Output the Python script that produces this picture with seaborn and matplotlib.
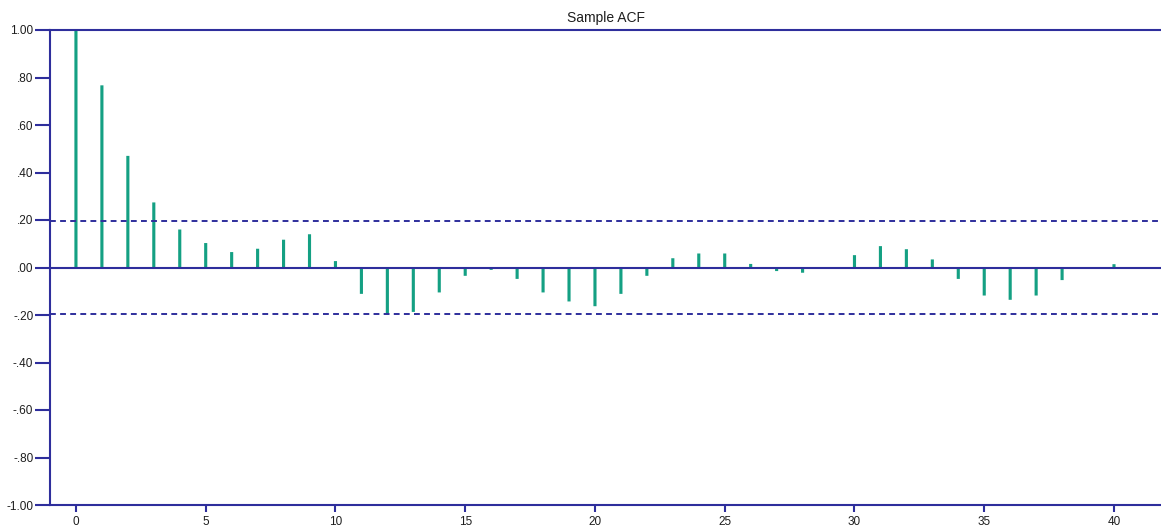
import matplotlib
matplotlib.use("Agg")
import matplotlib.pyplot as plt
import seaborn as sns
import numpy as np
import pandas as pd
from matplotlib.ticker import FuncFormatter, FixedLocator

# Sample autocorrelation by lag
lags = list(range(0, 41))
acf_values = [
    1.000, 0.767, 0.470, 0.274, 0.160, 0.103, 0.065, 0.079, 0.117, 0.140,
    0.027, -0.111, -0.197, -0.187, -0.105, -0.035, -0.010, -0.048, -0.105, -0.143,
    -0.163, -0.111, -0.035, 0.039, 0.059, 0.059, 0.015, -0.015, -0.022, 0.000,
    0.052, 0.090, 0.077, 0.034, -0.048, -0.118, -0.136, -0.118, -0.053, 0.000,
    0.014,
]
conf_bound = 0.196
x_ticks = [0, 5, 10, 15, 20, 25, 30, 35, 40]
y_ticks = [1.0, 0.8, 0.6, 0.4, 0.2, 0.0, -0.2, -0.4, -0.6, -0.8, -1.0]

navy = "#2e2e9c"
teal = "#14a083"

sns.set_theme(style="white")
plt.rcParams["font.family"] = ["Liberation Sans", "DejaVu Sans"]

fig = plt.figure(figsize=(11.61, 5.26), dpi=100)
ax = fig.add_axes([50 / 1161, 21 / 526, 1112 / 1161, 475 / 526])

df = pd.DataFrame({"lag": lags, "acf": acf_values})
sns.barplot(data=df, x="lag", y="acf", native_scale=True, width=0.12,
            color=teal, saturation=1, linewidth=0, ax=ax)
# keep every stem the same width instead of snapping to whole pixels
for p in ax.patches:
    p.set_snap(False)

ax.axhline(0, color=navy, linewidth=1.5, zorder=3)
for b in (conf_bound, -conf_bound):
    ax.axhline(b, color=navy, linewidth=1.4, linestyle=(0, (3, 2.2)), zorder=3)

ax.set_xlim(-1.0, 41.85)
ax.set_ylim(-1.0, 1.0)
ax.xaxis.set_major_locator(FixedLocator(x_ticks))
ax.yaxis.set_major_locator(FixedLocator(y_ticks))


def fmt_y(v, pos):
    s = f"{v:.2f}"
    if abs(v) < 1:
        s = s.replace("0.", ".")
    return s


ax.yaxis.set_major_formatter(FuncFormatter(fmt_y))
ax.xaxis.set_major_formatter(FuncFormatter(lambda v, p: f"{int(round(v))}"))

for side in ("left", "bottom", "top"):
    ax.spines[side].set_visible(True)
    ax.spines[side].set_color(navy)
    ax.spines[side].set_linewidth(1.5)
ax.spines["right"].set_visible(False)

ax.tick_params(axis="both", which="major", direction="out", width=1.5,
               color=navy, labelsize=8.5, labelcolor="#1e1e1e")
ax.tick_params(axis="y", left=True, length=11, pad=1)
ax.tick_params(axis="x", bottom=True, length=5, pad=3)

ax.set_xlabel("")
ax.set_ylabel("")
ax.set_title("Sample ACF", fontsize=10, color="#1e1e1e", pad=6)

fig.savefig("out.png", dpi=100)
